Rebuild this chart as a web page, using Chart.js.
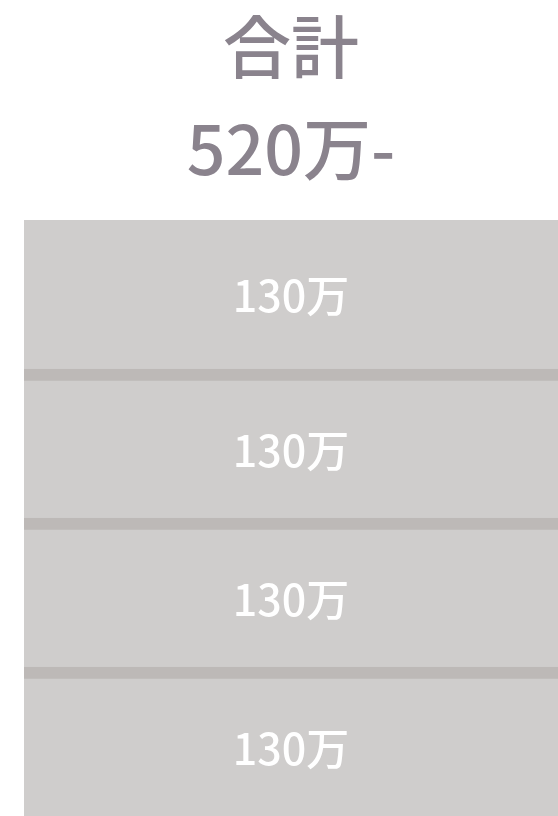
<!DOCTYPE html>
<html>
<head>
<meta charset="utf-8">
<script src="https://cdn.jsdelivr.net/npm/chart.js@4"></script>
<style>
  html, body { margin: 0; padding: 0; background: #fff; overflow: hidden; }
  #wrap { width: 558px; height: 820px; margin-top: -4px; }
</style>
</head>
<body>
<div id="wrap"><canvas id="stackChart"></canvas></div>
<script>
// data
const categories = ["合計"];
const segmentNames = ["d", "c", "b", "a"];
const segmentValues = [130, 130, 130, 130];
const totalValue = 520;
const unit = "万";
const titleLines = ["合計", totalValue + unit + "-"];

const FONT = "'Noto Sans CJK JP', 'Noto Sans', sans-serif";

// white value labels centred in each segment
const segmentLabels = {
  id: "segmentLabels",
  afterDatasetsDraw(chart) {
    const ctx = chart.ctx;
    ctx.save();
    ctx.fillStyle = "#ffffff";
    ctx.font = "500 43px " + FONT;
    ctx.textAlign = "center";
    ctx.textBaseline = "middle";
    chart.data.datasets.forEach((ds, i) => {
      chart.getDatasetMeta(i).data.forEach((bar, j) => {
        const p = bar.getProps(["x", "y", "base"], true);
        const x = chart.chartArea.left + (chart.chartArea.right - chart.chartArea.left) / 2;
        const top = i < chart.data.datasets.length - 1 ? Math.min(p.y, p.base) + 12 : Math.min(p.y, p.base);
        const bottom = Math.max(p.y, p.base);
        ctx.fillText(ds.data[j] + unit, x, (top + bottom) / 2 + 1);
      });
    });
    ctx.restore();
  }
};

const datasets = segmentValues.map((v, i) => ({
  label: segmentNames[i],
  data: [v],
  backgroundColor: "#cfcdcc",
  borderColor: "#bdb9b7",
  // dark band between segments, none on the top one
  borderWidth: i < segmentValues.length - 1 ? { top: 12, right: 0, bottom: 0, left: 0 } : 0,
  borderSkipped: "start",
  barPercentage: 1,
  categoryPercentage: 1
}));

new Chart(document.getElementById("stackChart"), {
  type: "bar",
  data: { labels: categories, datasets: datasets },
  options: {
    responsive: true,
    maintainAspectRatio: false,
    animation: false,
    layout: { padding: { left: 24, right: 0, top: 0, bottom: 0 } },
    scales: {
      x: { stacked: true, display: false },
      y: { stacked: true, display: false, min: 0, max: totalValue }
    },
    plugins: {
      legend: { display: false },
      tooltip: { enabled: false },
      title: {
        display: true,
        text: titleLines,
        color: "#8a838d",
        font: { family: FONT, size: 68, weight: "500", lineHeight: 1.5 },
        padding: { top: 0, bottom: 20 }
      }
    }
  },
  plugins: [segmentLabels]
});
</script>
</body>
</html>
